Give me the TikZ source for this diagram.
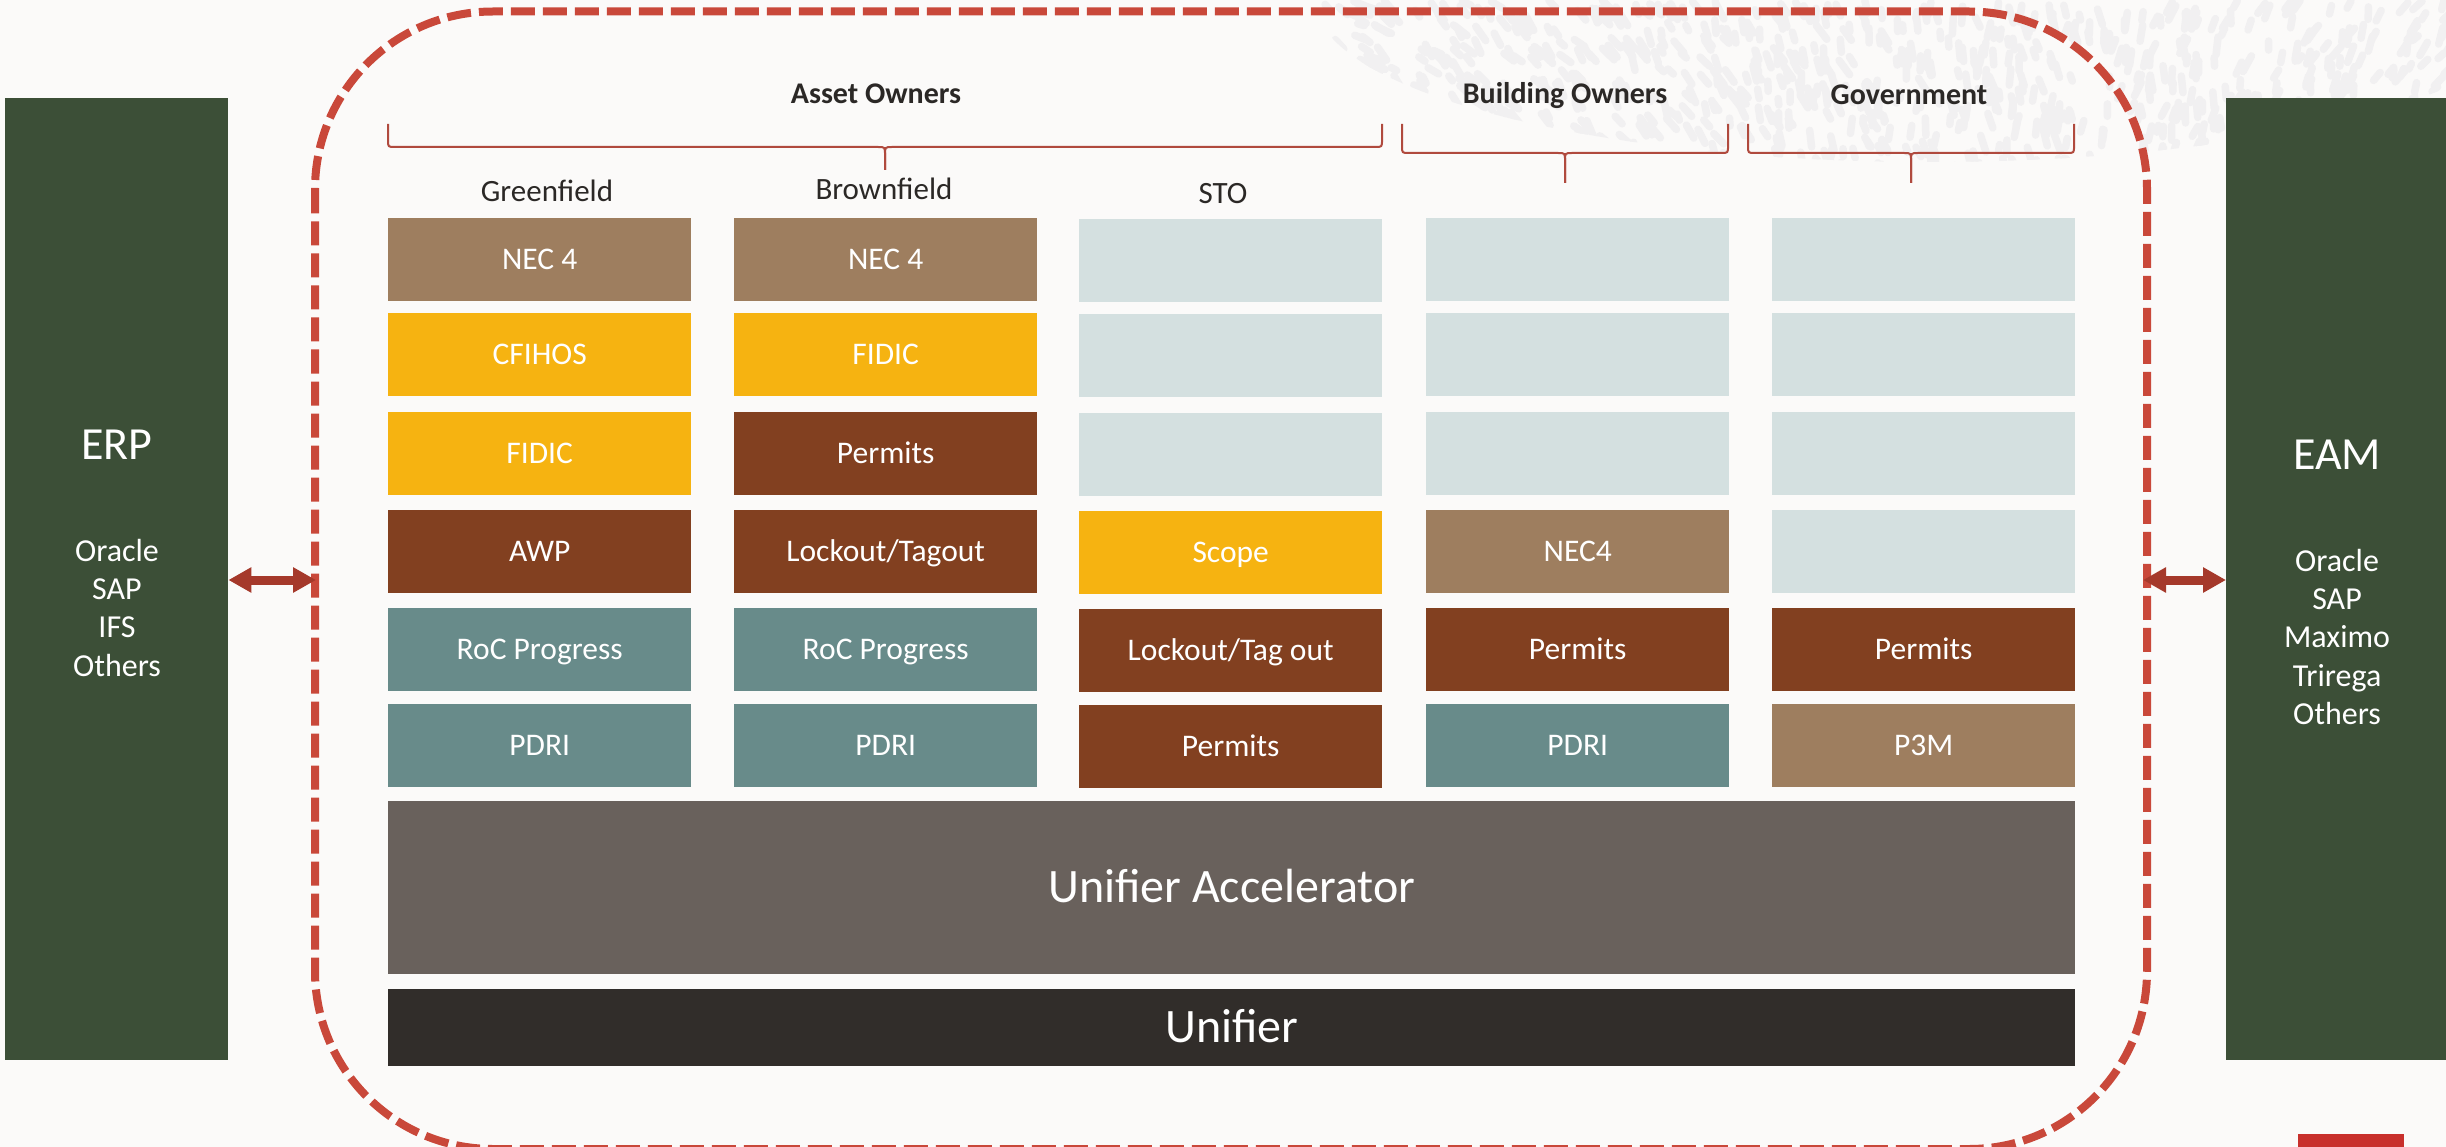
\documentclass[tikz,border=0pt]{standalone}
\usepackage{fontspec}
\setmainfont{Carlito}
\usetikzlibrary{arrows.meta}
\definecolor{bgc}{HTML}{FBFAF9}
\definecolor{texc}{HTML}{F1F0F1}
\definecolor{dashred}{HTML}{C9483A}
\definecolor{arrred}{HTML}{A5392B}
\definecolor{brred}{HTML}{B04A3E}
\definecolor{sidegreen}{HTML}{3C4F37}
\definecolor{tanc}{HTML}{9E7E5F}
\definecolor{yelc}{HTML}{F6B311}
\definecolor{brownc}{HTML}{824020}
\definecolor{tealc}{HTML}{688B8A}
\definecolor{lightc}{HTML}{D4E0E0}
\definecolor{accc}{HTML}{69615C}
\definecolor{unic}{HTML}{312D2A}
\definecolor{headc}{HTML}{2B2826}
\definecolor{markred}{HTML}{C8302C}
\newcommand{\mybrace}[5]{%
  \draw[bracestyle] (#1,124) -- (#1,#4-7) .. controls (#1,#4) .. (#1+7,#4) -- (#3-7,#4) .. controls (#3,#4) .. (#3,#4+8) -- (#3,#5);
  \draw[bracestyle] (#2,124) -- (#2,#4-7) .. controls (#2,#4) .. (#2-7,#4) -- (#3+7,#4) .. controls (#3,#4) .. (#3,#4+8) -- (#3,#5);
}
\begin{document}
\begin{tikzpicture}[x=1pt,y=-1pt,
  cell/.style={anchor=north west, inner sep=0pt, minimum width=303pt, minimum height=83pt,
    text=white, font=\fontsize{31.5}{36}\selectfont, text height=19.9pt, text depth=0pt},
  tanbox/.style={cell, fill=tanc},
  yelbox/.style={cell, fill=yelc},
  brbox/.style={cell, fill=brownc},
  tlbox/.style={cell, fill=tealc},
  ltbox/.style={cell, fill=lightc},
  wide/.style={anchor=north west, inner sep=0pt, minimum width=1687pt, text=white,
    font=\fontsize{48}{56}\selectfont, text height=30.3pt, text depth=0pt},
  side/.style={anchor=north west, inner sep=0pt, fill=sidegreen, minimum height=962pt},
  sidetitle/.style={text=white, inner sep=0pt, font=\fontsize{46}{52}\selectfont, text height=29.1pt, text depth=0pt},
  sideitem/.style={text=white, inner sep=0pt, font=\fontsize{32}{38}\selectfont, text height=20.2pt, text depth=0pt},
  grouphead/.style={text=headc, inner sep=0pt, font=\bfseries\fontsize{30}{36}\selectfont, text height=19pt, text depth=0pt},
  subhead/.style={text=headc, inner sep=0pt, font=\fontsize{31}{36}\selectfont, text height=19.6pt, text depth=0pt},
  bracestyle/.style={draw=brred, line width=2pt},
  biarrow/.style={draw=arrred, line width=9pt, {Triangle[length=23pt,width=24pt]}-{Triangle[length=23pt,width=24pt]}},
  border/.style={draw=dashred, line width=8pt, dash pattern=on 24pt off 8pt},
  texstroke/.style={draw=texc, line width=7.5pt, line cap=round}
]
\useasboundingbox (0,0) rectangle (2446,1147);
\fill[bgc] (0,0) rectangle (2446,1147);

% background texture (top right)
\begin{scope}
  \clip (1930,0) ellipse [x radius=615, y radius=162];
  \pgfmathsetseed{4242}
  \foreach \i in {1,...,950}{
    \pgfmathsetmacro{\px}{1300+rnd*1180}
    \pgfmathsetmacro{\py}{rnd*175}
    \pgfmathsetmacro{\pa}{10+(\px-1300)/1180*90+rnd*45}
    \pgfmathsetmacro{\pl}{6+rnd*12}
    \draw[texstroke] (\px,\py) -- ++(\pa:\pl);
  }
\end{scope}

% dashed container
\draw[border, rounded corners=178pt] (315,11.5) rectangle (2147,1149);

% side systems
\node[side, minimum width=223pt] (erp) at (5,98) {};
\node[side, minimum width=220pt] (eam) at (2226,98) {};
\node[sidetitle] (erpt) at (117,445) {ERP};
\node[sideitem] (erp1) at (117,551) {Oracle};
\node[sideitem] (erp2) at (117,589) {SAP};
\node[sideitem] (erp3) at (117,627) {IFS};
\node[sideitem] (erp4) at (117,666) {Others};
\node[sidetitle] (eamt) at (2337,455) {EAM};
\node[sideitem] (eam1) at (2337,561) {Oracle};
\node[sideitem] (eam2) at (2337,599) {SAP};
\node[sideitem] (eam3) at (2337,637) {Maximo};
\node[sideitem] (eam4) at (2337,676) {Trirega};
\node[sideitem] (eam5) at (2337,714) {Others};

% arrows
\coordinate (lhit) at (316,580);
\coordinate (rhit) at (2143,580);
\draw[biarrow] (erp.east |- lhit) -- (lhit);
\draw[biarrow] (rhit) -- (eam.west |- rhit);

% group headers and braces
\node[grouphead] (hasset) at (876,94) {Asset Owners};
\node[grouphead] (hbuild) at (1565,94) {Building Owners};
\node[grouphead] (hgov) at (1909,95) {Government};
\mybrace{388}{1382}{885}{147}{170}
\mybrace{1402}{1728}{1565}{153}{183}
\mybrace{1748}{2074}{1911}{153}{183}

\node[subhead] (sgreen) at (547,192) {Greenfield};
\node[subhead] (sbrown) at (884,190) {Brownfield};
\node[subhead] (ssto) at (1223,194) {STO};

% column 1: Greenfield
\node[tanbox] (g1) at (388,218) {NEC 4};
\node[yelbox] (g2) at (388,313) {CFIHOS};
\node[yelbox] (g3) at (388,412) {FIDIC};
\node[brbox]  (g4) at (388,510) {AWP};
\node[tlbox]  (g5) at (388,608) {RoC Progress};
\node[tlbox]  (g6) at (388,704) {PDRI};
% column 2: Brownfield
\node[tanbox] (b1) at (734,218) {NEC 4};
\node[yelbox] (b2) at (734,313) {FIDIC};
\node[brbox]  (b3) at (734,412) {Permits};
\node[brbox]  (b4) at (734,510) {Lockout/Tagout};
\node[tlbox]  (b5) at (734,608) {RoC Progress};
\node[tlbox]  (b6) at (734,704) {PDRI};
% column 3: STO
\node[ltbox]  (s1) at (1079,219) {};
\node[ltbox]  (s2) at (1079,314) {};
\node[ltbox]  (s3) at (1079,413) {};
\node[yelbox] (s4) at (1079,511) {Scope};
\node[brbox]  (s5) at (1079,609) {Lockout/Tag out};
\node[brbox]  (s6) at (1079,705) {Permits};
% column 4: Building Owners
\node[ltbox]  (o1) at (1426,218) {};
\node[ltbox]  (o2) at (1426,313) {};
\node[ltbox]  (o3) at (1426,412) {};
\node[tanbox] (o4) at (1426,510) {NEC4};
\node[brbox]  (o5) at (1426,608) {Permits};
\node[tlbox]  (o6) at (1426,704) {PDRI};
% column 5: Government
\node[ltbox]  (v1) at (1772,218) {};
\node[ltbox]  (v2) at (1772,313) {};
\node[ltbox]  (v3) at (1772,412) {};
\node[ltbox]  (v4) at (1772,510) {};
\node[brbox]  (v5) at (1772,608) {Permits};
\node[tanbox] (v6) at (1772,704) {P3M};

% platform layers
\node[wide, fill=accc, minimum height=173pt] (acc) at (388,801) {Unifier Accelerator};
\node[wide, fill=unic, minimum height=77pt] (uni) at (388,989) {Unifier};

% corner mark
\fill[markred] (2298,1134) rectangle (2404,1147);
\end{tikzpicture}
\end{document}
